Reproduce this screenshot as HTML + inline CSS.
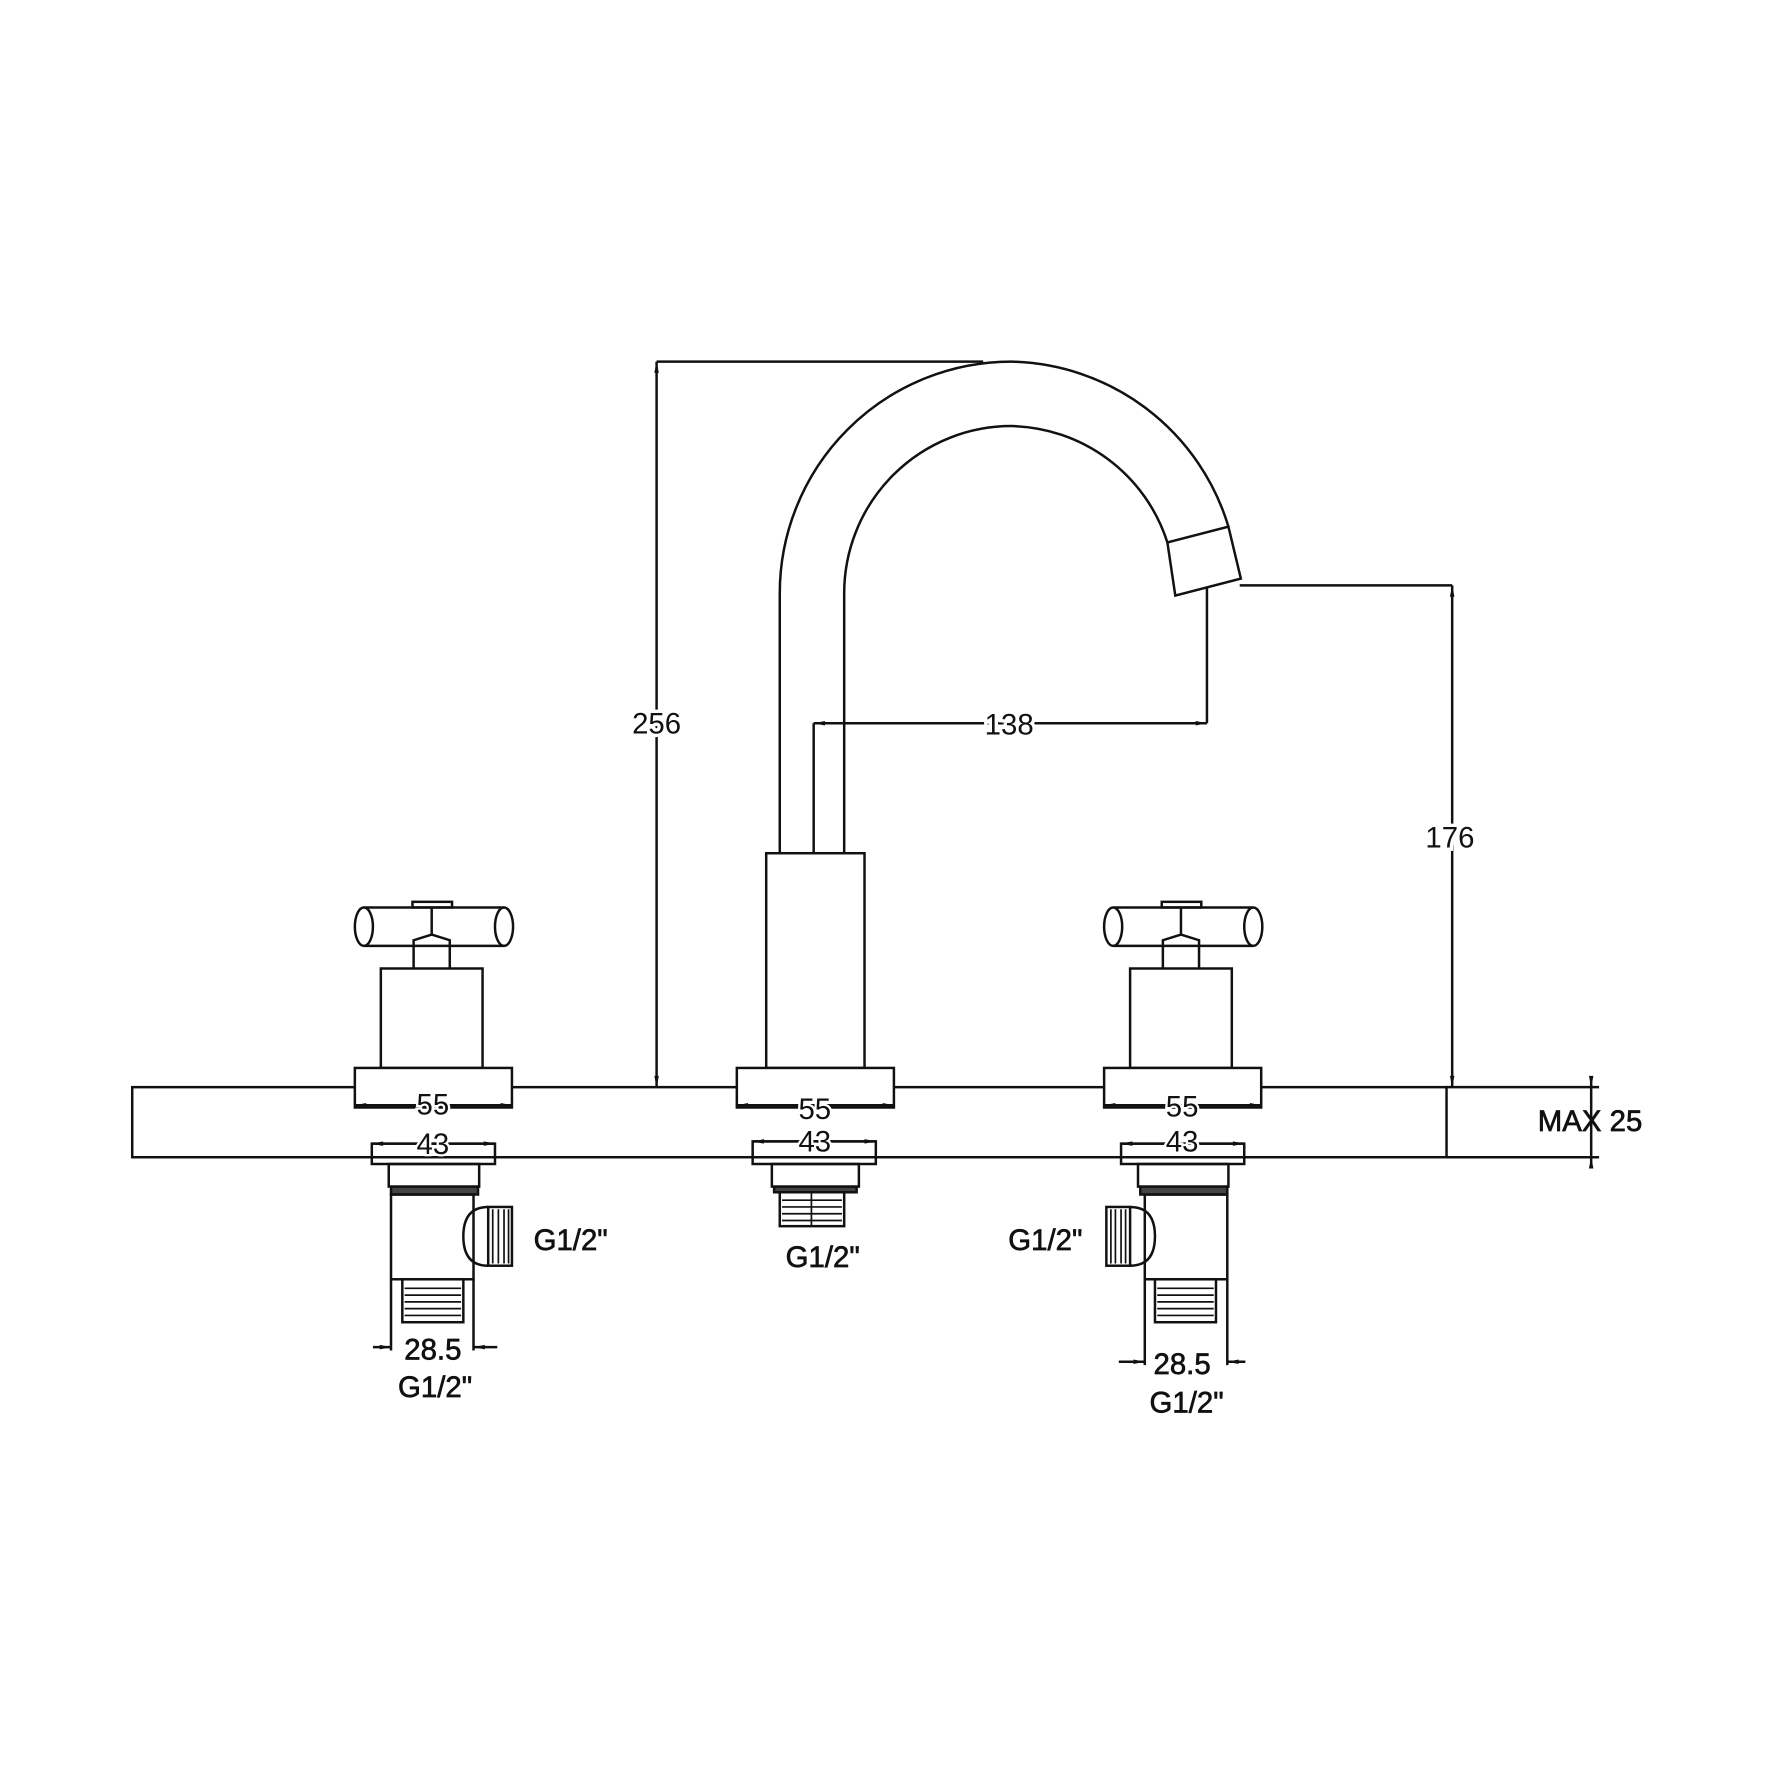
<!DOCTYPE html>
<html><head><style>html,body{margin:0;padding:0;background:#fff}svg{display:block}</style></head>
<body>
<svg width="1772" height="1772" viewBox="0 0 1568 1568" xmlns="http://www.w3.org/2000/svg">
<defs>
<marker id="a" viewBox="0 0 10 6" refX="10" refY="3" markerWidth="12" markerHeight="6" orient="auto-start-reverse" markerUnits="userSpaceOnUse"><path d="M0,1 L10,3 L0,5z" fill="#111"/></marker>
<g id="handle" fill="none" stroke="#111" stroke-width="2.2">
<rect x="365" y="798" width="35" height="5"/>
<path d="M322,803 H446 M322,837 H446"/>
<ellipse cx="322" cy="820" rx="8" ry="17" fill="#fff"/>
<ellipse cx="446" cy="820" rx="8" ry="17"/>
<path d="M382,803 V827 L366,832 V857 M382,827 L398,832 V857"/>
<rect x="337" y="857" width="90" height="88"/>
<rect x="314" y="945" width="139" height="35" fill="#fff"/>
</g>
</defs>
<g fill="none" stroke="#111" stroke-width="2.2">
<rect x="117" y="962" width="1163" height="62"/>
<path d="M1280,962 H1415 M1280,1024 H1415"/>
<line x1="1408" y1="955" x2="1408" y2="962" marker-end="url(#a)"/>
<line x1="1408" y1="1031" x2="1408" y2="1024" marker-end="url(#a)"/>
<line x1="1408" y1="962" x2="1408" y2="1024"/>
</g>
<use href="#handle"/>
<use href="#handle" x="663"/>
<g fill="none" stroke="#111" stroke-width="2.2">
<rect x="678" y="755" width="87" height="190"/>
<rect x="652" y="945" width="139" height="35" fill="#fff"/>
<path d="M690,755 V525 A205,205 0 0 1 895,320 A205,205 0 0 1 1087,466"/>
<path d="M747,755 V525 A148,148 0 0 1 895,377 A148,148 0 0 1 1033,480"/>
<path d="M1033,480 L1087,466 L1098,512 L1040,527 Z"/>
<path d="M581,320 H870"/>
<line x1="581" y1="640" x2="581" y2="320" marker-end="url(#a)"/>
<line x1="581" y1="640" x2="581" y2="962" marker-end="url(#a)"/>
<path d="M720,755 V640 M1068,520 V640 M1097,518 H1285"/>
<line x1="720" y1="640" x2="1068" y2="640" marker-start="url(#a)" marker-end="url(#a)"/>
<line x1="1285" y1="518" x2="1285" y2="962" marker-start="url(#a)" marker-end="url(#a)"/>
<line x1="314" y1="978" x2="453" y2="978" marker-start="url(#a)" marker-end="url(#a)"/>
<line x1="652" y1="978" x2="791" y2="978" marker-start="url(#a)" marker-end="url(#a)"/>
<line x1="977" y1="978" x2="1116" y2="978" marker-start="url(#a)" marker-end="url(#a)"/>
<line x1="329" y1="1012" x2="438" y2="1012" marker-start="url(#a)" marker-end="url(#a)"/>
<line x1="666" y1="1010" x2="775" y2="1010" marker-start="url(#a)" marker-end="url(#a)"/>
<line x1="992" y1="1012" x2="1101" y2="1012" marker-start="url(#a)" marker-end="url(#a)"/>
<rect x="329" y="1012" width="109" height="18"/>
<rect x="344" y="1030" width="80" height="20"/>
<rect x="346" y="1050" width="77" height="7" fill="#444"/>
<rect x="346" y="1057" width="73" height="75"/>
<path d="M432,1068 Q410,1068 410,1094 Q410,1120 432,1120"/>
<rect x="432" y="1068" width="21" height="52"/>
<path d="M436,1070 V1118 M441,1070 V1118 M446,1070 V1118 M450,1070 V1118" stroke-width="1.5"/>
<rect x="356" y="1132" width="54" height="38"/>
<path d="M358,1140 H408 M358,1146 H408 M358,1152 H408 M358,1158 H408 M358,1164 H408" stroke-width="1.5"/>
<path d="M346,1132 V1195 M419,1132 V1195"/>
<line x1="330" y1="1192" x2="346" y2="1192" marker-end="url(#a)"/>
<line x1="440" y1="1192" x2="419" y2="1192" marker-end="url(#a)"/>
<rect x="666" y="1010" width="109" height="20"/>
<rect x="683" y="1030" width="77" height="20"/>
<rect x="685" y="1050" width="73" height="5" fill="#444"/>
<rect x="690" y="1055" width="57" height="30"/>
<path d="M718,1055 V1085 M692,1062 H745 M692,1068 H745 M692,1074 H745 M692,1080 H745" stroke-width="1.5"/>
<rect x="992" y="1012" width="109" height="18"/>
<rect x="1007" y="1030" width="80" height="20"/>
<rect x="1009" y="1050" width="77" height="7" fill="#444"/>
<rect x="1013" y="1057" width="73" height="75"/>
<path d="M1000,1068 Q1022,1068 1022,1094 Q1022,1120 1000,1120"/>
<rect x="979" y="1068" width="21" height="52"/>
<path d="M983,1070 V1118 M987,1070 V1118 M992,1070 V1118 M996,1070 V1118" stroke-width="1.5"/>
<rect x="1022" y="1132" width="54" height="38"/>
<path d="M1024,1140 H1074 M1024,1146 H1074 M1024,1152 H1074 M1024,1158 H1074 M1024,1164 H1074" stroke-width="1.5"/>
<path d="M1013,1132 V1208 M1086,1132 V1208"/>
<line x1="990" y1="1205" x2="1013" y2="1205" marker-end="url(#a)"/>
<line x1="1102" y1="1205" x2="1086" y2="1205" marker-end="url(#a)"/>
</g>
<g font-family="Liberation Sans, sans-serif" font-size="26" fill="#111" text-anchor="middle" stroke="#fff" stroke-width="6" paint-order="stroke">
<text x="581" y="649">256</text>
<text x="893" y="650">138</text>
<text x="1283" y="750">176</text>
<text x="383" y="986" stroke-width="4">55</text>
<text x="721" y="990" stroke-width="4">55</text>
<text x="1046" y="988" stroke-width="4">55</text>
<text x="383" y="1021" stroke-width="4">43</text>
<text x="721" y="1019" stroke-width="4">43</text>
<text x="1046" y="1019" stroke-width="4">43</text>
</g>
<g font-family="Liberation Sans, sans-serif" font-size="26" fill="#111" text-anchor="middle" stroke="#111" stroke-width="0.6">
<text x="1407" y="1001">MAX 25</text>
<text x="505" y="1106">G1/2"</text>
<text x="728" y="1121">G1/2"</text>
<text x="925" y="1106">G1/2"</text>
<text x="383" y="1203">28.5</text>
<text x="385" y="1236">G1/2"</text>
<text x="1046" y="1216">28.5</text>
<text x="1050" y="1250">G1/2"</text>
</g>
</svg>
</body></html>
